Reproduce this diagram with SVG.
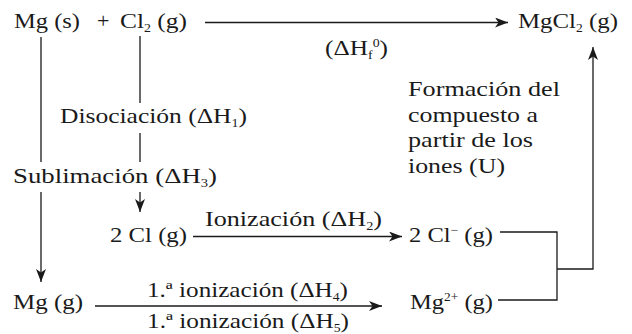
<svg xmlns="http://www.w3.org/2000/svg" width="632" height="334" viewBox="0 0 632 334">
<defs>
<style>
.t{font-family:"Liberation Serif","Times New Roman",serif;font-size:22px;fill:#1a1a1a}
.s{font-size:12px}
.c{fill:none;stroke:#1a1a1a;stroke-width:1.3}
</style>
<marker id="ah" markerUnits="userSpaceOnUse" markerWidth="13" markerHeight="10" refX="13" refY="5" orient="auto">
<path d="M0,0 L13,5 L0,10 L3.5,5 Z" fill="#1a1a1a"/>
</marker>
</defs>
<rect width="632" height="334" fill="#ffffff"/>
<g id="connectors">
<path class="c" d="M205,22.5 H508" marker-end="url(#ah)"/>
<path class="c" d="M41,37 V162"/>
<path class="c" d="M41,192 V282" marker-end="url(#ah)"/>
<path class="c" d="M140,36 V103"/>
<path class="c" d="M140,133 V162"/>
<path class="c" d="M140,192 V212" marker-end="url(#ah)"/>
<path class="c" d="M193,236.5 H402" marker-end="url(#ah)"/>
<path class="c" d="M95,306 H382" marker-end="url(#ah)"/>
<path class="c" d="M500,232 H557 V300 H498"/>
<path class="c" d="M557,269 H593 V47" marker-end="url(#ah)"/>
</g>
<g id="reactants">
<text class="t" x="14" y="28" textLength="66" lengthAdjust="spacingAndGlyphs">Mg (s)</text>
<text class="t" x="97" y="28">+</text>
<text class="t" x="120" y="28" textLength="67" lengthAdjust="spacingAndGlyphs">Cl<tspan class="s" dy="4">2</tspan><tspan dy="-4"> (g)</tspan></text>
</g>
<g id="product">
<text class="t" x="518" y="28" textLength="100" lengthAdjust="spacingAndGlyphs">MgCl<tspan class="s" dy="4">2</tspan><tspan dy="-4"> (g)</tspan></text>
</g>
<g id="label-formation">
<text class="t" x="325" y="55" textLength="63" lengthAdjust="spacingAndGlyphs">(ΔH<tspan class="s" dy="4">f</tspan><tspan class="s" dy="-12">0</tspan><tspan dy="8">)</tspan></text>
</g>
<g id="label-lattice">
<text class="t" x="408" y="96" textLength="152" lengthAdjust="spacingAndGlyphs">Formación del</text>
<text class="t" x="408" y="121.5" textLength="130" lengthAdjust="spacingAndGlyphs">compuesto a</text>
<text class="t" x="408" y="147" textLength="125" lengthAdjust="spacingAndGlyphs">partir de los</text>
<text class="t" x="408" y="172.5" textLength="97" lengthAdjust="spacingAndGlyphs">iones (U)</text>
</g>
<g id="label-dissociation">
<text class="t" x="60" y="123" textLength="187" lengthAdjust="spacingAndGlyphs">Disociación (ΔH<tspan class="s" dy="4">1</tspan><tspan dy="-4">)</tspan></text>
</g>
<g id="label-sublimation">
<text class="t" x="13" y="183" textLength="204" lengthAdjust="spacingAndGlyphs">Sublimación  (ΔH<tspan class="s" dy="4">3</tspan><tspan dy="-4">)</tspan></text>
</g>
<g id="cl-atoms">
<text class="t" x="110" y="242" textLength="77" lengthAdjust="spacingAndGlyphs">2 Cl (g)</text>
</g>
<g id="label-ionization-cl">
<text class="t" x="205" y="226" textLength="177" lengthAdjust="spacingAndGlyphs">Ionización (ΔH<tspan class="s" dy="4">2</tspan><tspan dy="-4">)</tspan></text>
</g>
<g id="cl-ions">
<text class="t" x="409" y="242" textLength="84" lengthAdjust="spacingAndGlyphs">2 Cl<tspan class="s" dy="-8">−</tspan><tspan dy="8"> (g)</tspan></text>
</g>
<g id="mg-gas">
<text class="t" x="13" y="309" textLength="70" lengthAdjust="spacingAndGlyphs">Mg (g)</text>
</g>
<g id="label-ionization-mg">
<text class="t" x="147" y="297" textLength="201" lengthAdjust="spacingAndGlyphs">1.ª ionización (ΔH<tspan class="s" dy="4">4</tspan><tspan dy="-4">)</tspan></text>
<text class="t" x="147" y="328" textLength="202" lengthAdjust="spacingAndGlyphs">1.ª ionización (ΔH<tspan class="s" dy="4">5</tspan><tspan dy="-4">)</tspan></text>
</g>
<g id="mg-ion">
<text class="t" x="410" y="309" textLength="83" lengthAdjust="spacingAndGlyphs">Mg<tspan class="s" dy="-8">2+</tspan><tspan dy="8"> (g)</tspan></text>
</g>
</svg>
